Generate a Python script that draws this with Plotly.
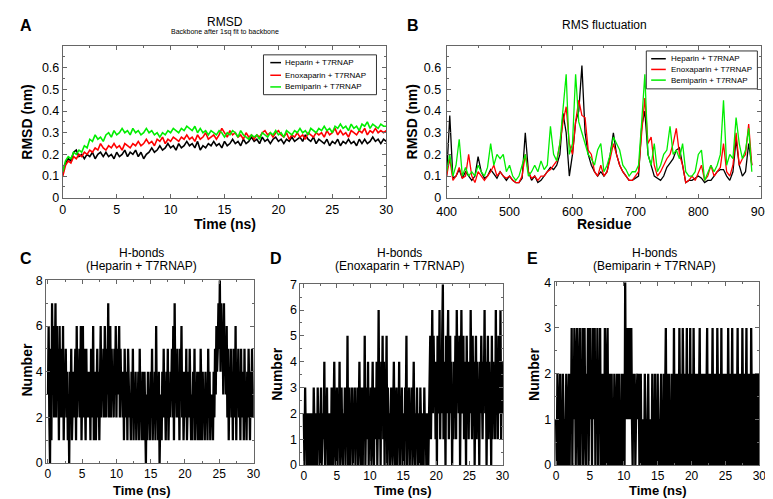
import plotly.graph_objects as go

W, H = 773, 499

# ---------------- DATA ----------------
# Panel A: RMSD (nm) vs time (ns), sampled every 0.25 ns
RMSD_DT = 0.25
RMSD_HEPARIN = [0.12,0.16,0.18,0.17,0.21,0.22,0.19,0.20,
                0.18,0.20,0.19,0.21,0.18,0.20,0.21,0.19,
                0.21,0.19,0.20,0.18,0.21,0.19,0.20,0.22,
                0.19,0.21,0.20,0.22,0.19,0.21,0.18,0.20,
                0.21,0.23,0.21,0.22,0.24,0.22,0.23,0.25,
                0.23,0.24,0.22,0.25,0.23,0.24,0.26,0.24,
                0.25,0.23,0.26,0.22,0.24,0.23,0.25,0.24,
                0.26,0.24,0.25,0.23,0.26,0.24,0.25,0.27,
                0.25,0.26,0.24,0.27,0.25,0.26,0.28,0.26,
                0.27,0.25,0.28,0.26,0.27,0.25,0.27,0.28,
                0.26,0.27,0.25,0.27,0.26,0.28,0.26,0.27,
                0.28,0.26,0.29,0.27,0.26,0.28,0.25,0.27,
                0.26,0.25,0.27,0.24,0.26,0.25,0.27,0.24,
                0.26,0.25,0.27,0.25,0.26,0.24,0.27,0.25,
                0.27,0.25,0.26,0.28,0.26,0.27,0.25,0.27,0.26]
RMSD_ENOXAPARIN = [0.10,0.15,0.17,0.16,0.19,0.18,0.20,0.19,
                   0.21,0.20,0.22,0.21,0.23,0.22,0.25,0.23,
                   0.22,0.24,0.23,0.25,0.23,0.24,0.22,0.25,
                   0.24,0.23,0.25,0.24,0.26,0.24,0.25,0.27,
                   0.25,0.26,0.24,0.27,0.26,0.28,0.25,0.27,
                   0.26,0.28,0.27,0.26,0.28,0.27,0.29,0.27,
                   0.28,0.26,0.29,0.27,0.28,0.30,0.27,0.28,
                   0.29,0.27,0.29,0.32,0.30,0.28,0.31,0.29,
                   0.30,0.28,0.29,0.27,0.30,0.28,0.29,0.27,
                   0.29,0.28,0.30,0.31,0.29,0.30,0.28,0.30,
                   0.31,0.29,0.28,0.30,0.27,0.29,0.28,0.30,
                   0.28,0.29,0.27,0.30,0.29,0.28,0.30,0.29,
                   0.30,0.28,0.31,0.29,0.30,0.32,0.29,0.31,
                   0.29,0.30,0.28,0.31,0.30,0.29,0.31,0.30,
                   0.32,0.29,0.31,0.30,0.32,0.30,0.31,0.30,0.31]
RMSD_BEMIPARIN = [0.12,0.17,0.19,0.18,0.21,0.20,0.22,0.21,
                  0.24,0.23,0.27,0.26,0.29,0.27,0.28,0.26,
                  0.29,0.30,0.28,0.31,0.29,0.30,0.32,0.30,
                  0.31,0.29,0.32,0.30,0.31,0.29,0.30,0.32,
                  0.30,0.31,0.29,0.30,0.28,0.30,0.29,0.31,
                  0.30,0.32,0.31,0.30,0.32,0.31,0.33,0.32,
                  0.31,0.33,0.30,0.32,0.30,0.31,0.29,0.31,
                  0.30,0.29,0.31,0.30,0.28,0.30,0.29,0.31,
                  0.30,0.28,0.31,0.29,0.28,0.27,0.29,0.28,
                  0.29,0.27,0.30,0.29,0.28,0.30,0.29,0.31,
                  0.29,0.30,0.28,0.31,0.30,0.29,0.31,0.30,
                  0.32,0.30,0.31,0.29,0.32,0.31,0.30,0.32,
                  0.31,0.33,0.31,0.32,0.30,0.33,0.32,0.34,
                  0.32,0.33,0.31,0.34,0.32,0.33,0.31,0.34,
                  0.33,0.35,0.32,0.34,0.33,0.32,0.34,0.33,0.33]

# Panel B: RMS fluctuation (nm) per residue, every 5 residues from 400
RESIDUE_START, RESIDUE_STEP = 400, 5
RMSF_HEPARIN = [0.10,0.38,0.09,0.10,0.13,0.09,0.12,0.10,0.08,0.10,
                0.19,0.12,0.09,0.10,0.13,0.11,0.09,0.12,0.10,0.08,
                0.10,0.08,0.07,0.07,0.09,0.30,0.12,0.08,0.10,0.07,
                0.08,0.10,0.12,0.14,0.13,0.15,0.20,0.39,0.30,0.10,
                0.20,0.35,0.40,0.61,0.30,0.20,0.15,0.12,0.10,0.12,
                0.10,0.12,0.20,0.30,0.20,0.15,0.12,0.10,0.08,0.08,
                0.09,0.10,0.33,0.40,0.20,0.15,0.10,0.09,0.08,0.10,
                0.14,0.16,0.18,0.22,0.23,0.15,0.07,0.08,0.08,0.09,
                0.10,0.09,0.07,0.08,0.08,0.10,0.12,0.13,0.13,0.10,
                0.08,0.12,0.27,0.15,0.10,0.12,0.25,0.15]
RMSF_ENOXAPARIN = [0.10,0.18,0.08,0.10,0.14,0.09,0.10,0.20,0.10,0.07,
                   0.12,0.10,0.08,0.10,0.12,0.15,0.10,0.12,0.10,0.09,
                   0.10,0.08,0.07,0.07,0.10,0.20,0.12,0.09,0.10,0.08,
                   0.10,0.10,0.12,0.13,0.15,0.17,0.25,0.35,0.42,0.25,
                   0.20,0.35,0.45,0.38,0.37,0.22,0.20,0.12,0.10,0.15,
                   0.10,0.12,0.18,0.25,0.20,0.15,0.12,0.10,0.08,0.08,
                   0.10,0.12,0.30,0.46,0.25,0.28,0.15,0.10,0.12,0.15,
                   0.18,0.20,0.25,0.32,0.20,0.15,0.07,0.08,0.10,0.08,
                   0.12,0.15,0.08,0.10,0.15,0.10,0.12,0.14,0.25,0.12,
                   0.10,0.15,0.30,0.15,0.18,0.20,0.34,0.15]
RMSF_BEMIPARIN = [0.12,0.20,0.10,0.15,0.27,0.10,0.14,0.10,0.12,0.10,
                  0.15,0.12,0.10,0.14,0.25,0.15,0.20,0.18,0.20,0.12,
                  0.15,0.10,0.08,0.10,0.15,0.20,0.10,0.12,0.15,0.12,
                  0.17,0.13,0.15,0.33,0.20,0.17,0.25,0.40,0.57,0.20,
                  0.25,0.57,0.35,0.30,0.25,0.20,0.18,0.15,0.22,0.25,
                  0.12,0.15,0.20,0.28,0.25,0.22,0.15,0.13,0.10,0.12,
                  0.12,0.15,0.35,0.57,0.20,0.15,0.25,0.12,0.15,0.20,
                  0.22,0.33,0.20,0.22,0.18,0.25,0.12,0.10,0.10,0.12,
                  0.20,0.22,0.08,0.12,0.15,0.12,0.15,0.20,0.45,0.15,
                  0.20,0.18,0.37,0.25,0.18,0.22,0.32,0.12]

# Panels C-E: number of H-bonds, sampled every 0.1 ns
HB_DT = 0.1
HB_HEPARIN = [3,6,2,0,5,1,7,3,6,2, 4,7,2,6,3,5,1,6,2,4, 5,2,6,1,4,3,5,2,4,1,
              3,0,4,2,5,1,3,4,2,3, 5,1,6,2,4,3,5,2,6,1, 4,6,2,5,3,1,5,2,4,3,
              2,4,1,5,3,2,6,1,3,4, 1,3,5,2,4,1,3,6,2,4, 3,5,2,6,4,2,5,3,7,2,
              4,6,2,5,3,4,2,5,3,6, 2,5,3,4,6,2,5,3,4,2, 4,1,5,3,2,4,1,5,3,2,
              3,1,4,2,5,1,3,2,4,1, 3,2,4,1,5,2,3,1,4,2, 1,4,2,0,3,1,4,2,3,1,
              4,2,5,1,3,2,4,1,6,2, 3,1,4,0,2,3,1,4,2,5, 2,3,1,4,2,5,1,3,2,4,
              3,5,2,6,1,7,3,4,2,5, 2,4,1,5,3,6,2,4,1,3, 4,2,5,1,3,4,2,5,3,1,
              3,1,4,2,5,1,3,2,4,1, 2,4,1,5,3,1,4,2,3,1, 4,2,3,1,5,2,4,1,3,2,
              3,1,4,2,5,3,6,4,5,7, 5,8,4,7,5,6,3,7,4,5, 3,6,2,5,1,4,3,5,2,4,
              1,5,3,2,6,1,4,3,5,2, 4,1,5,2,3,4,1,5,2,3, 1,4,2,5,3,1,4,2,5,3,2]
HB_ENOXAPARIN = [2,0,3,1,2,0,1,2,0,2, 1,0,2,1,0,3,2,0,1,2, 0,3,1,2,0,2,3,0,1,2,
                 1,4,0,2,1,3,0,2,1,0, 2,0,3,1,0,2,4,1,0,2, 3,0,2,1,4,0,2,3,1,0,
                 2,1,3,0,2,1,5,0,2,3, 0,2,1,3,0,2,1,3,0,2, 1,3,0,2,4,1,0,3,2,0,
                 3,1,5,0,2,3,1,4,0,2, 1,3,0,2,4,1,0,3,2,1, 4,0,2,6,1,3,0,4,2,5,
                 1,4,0,3,2,5,0,3,1,2, 0,2,3,1,0,2,4,1,0,2, 3,0,2,1,4,0,2,1,3,0,
                 2,1,0,3,2,5,0,2,1,3, 0,2,1,3,0,2,4,1,0,2, 1,3,0,2,1,0,3,2,0,1,
                 2,0,3,1,2,0,1,2,0,2, 3,5,1,4,6,2,5,3,4,1, 4,0,5,2,3,6,1,4,2,5,
                 7,1,4,3,0,5,2,4,6,1, 3,5,2,4,0,3,1,4,2,5, 1,6,3,4,2,5,0,4,6,3,
                 2,5,1,4,3,0,5,2,4,1, 4,2,6,3,1,5,2,4,0,3, 5,1,4,2,3,0,4,2,5,3,
                 1,4,3,6,2,4,0,3,5,1, 4,2,3,0,5,1,4,2,3,1, 6,2,4,1,5,3,2,6,1,4,2]
HB_BEMIPARIN = [1,0,2,1,0,1,2,0,1,0, 2,1,0,1,0,2,1,0,1,2, 0,2,1,3,0,2,1,3,2,0,
                2,3,1,0,2,3,0,2,1,3, 0,2,3,1,0,2,1,3,0,2, 3,1,2,0,3,2,1,3,0,2,
                1,3,0,2,1,3,0,2,1,0, 2,0,3,1,0,2,3,0,1,2, 0,1,2,0,1,0,2,1,0,1,
                2,0,1,2,0,1,0,2,1,0, 2,0,4,1,2,3,1,2,3,1, 2,3,1,0,2,1,2,0,1,2,
                2,1,2,0,1,2,0,1,0,1, 0,2,0,1,0,1,2,0,1,0, 1,0,2,0,1,0,2,0,1,0,
                2,0,1,0,1,2,0,1,0,2, 0,1,3,0,2,1,0,2,0,1, 0,2,1,0,3,0,1,2,0,1,
                2,0,3,1,0,2,0,3,1,0, 2,0,1,3,0,2,1,0,3,0, 1,2,0,3,1,0,2,0,1,2,
                0,1,3,0,2,1,0,2,0,1, 2,0,1,3,0,2,1,0,2,0, 1,3,0,2,1,0,2,0,3,1,
                0,2,1,0,3,0,2,1,0,2, 0,1,2,0,3,1,0,2,0,1, 3,0,2,1,0,2,0,1,3,0,
                2,0,1,2,0,3,1,0,2,0, 1,3,0,2,0,1,2,0,3,1, 0,2,1,0,2,0,1,2,0,2,1]

SERIES_NAMES = ["Heparin + T7RNAP", "Enoxaparin + T7RNAP", "Bemiparin + T7RNAP"]
SERIES_COLORS = ["#000000", "#ff0000", "#00ee00"]

# ---------------- FIGURE ----------------
FONT = "Liberation Sans, Arial, sans-serif"


def px(x):
    return x / W


def py(y):
    return 1 - y / H


fig = go.Figure()

t_rmsd = [i * RMSD_DT for i in range(len(RMSD_HEPARIN))]
for name, col, ys in zip(SERIES_NAMES, SERIES_COLORS,
                         [RMSD_HEPARIN, RMSD_ENOXAPARIN, RMSD_BEMIPARIN]):
    fig.add_trace(go.Scatter(x=t_rmsd, y=ys, mode="lines", name=name,
                             showlegend=False,
                             line=dict(color=col, width=1.6),
                             xaxis="x", yaxis="y"))

residues = [RESIDUE_START + i * RESIDUE_STEP for i in range(len(RMSF_HEPARIN))]
for name, col, ys in zip(SERIES_NAMES, SERIES_COLORS,
                         [RMSF_HEPARIN, RMSF_ENOXAPARIN, RMSF_BEMIPARIN]):
    fig.add_trace(go.Scatter(x=residues, y=ys, mode="lines", name=name,
                             showlegend=False,
                             line=dict(color=col, width=1.3),
                             xaxis="x2", yaxis="y2"))

for k, ys in zip([3, 4, 5], [HB_HEPARIN, HB_ENOXAPARIN, HB_BEMIPARIN]):
    t = [i * HB_DT for i in range(len(ys))]
    fig.add_trace(go.Scatter(x=t, y=ys, mode="lines", showlegend=False,
                             line=dict(color="#000000", width=2.3),
                             xaxis=f"x{k}", yaxis=f"y{k}"))


def axis_style(domain, rng, dtick, minor_dtick, anchor, size=12.5):
    return dict(domain=domain, range=rng, dtick=dtick, tick0=0,
                showgrid=False, zeroline=False,
                showline=True, linecolor="#666", linewidth=1, mirror="ticks",
                ticks="inside", ticklen=4, tickcolor="#666", tickwidth=1,
                minor=dict(dtick=minor_dtick, ticks="inside", ticklen=2,
                           tickcolor="#666", showgrid=False),
                tickfont=dict(family=FONT, size=size, color="#000"),
                anchor=anchor, fixedrange=True)


RMSD_TICKS = [0, 0.1, 0.2, 0.3, 0.4, 0.5, 0.6]
ya = axis_style([py(188), py(32)], [0, 0.7], 0.1, 0.05, "x")
ya.update(tickvals=RMSD_TICKS, ticktext=[f"{v:g}" for v in RMSD_TICKS])
yb = axis_style([py(188), py(32)], [0, 0.7], 0.1, 0.05, "x2")
yb.update(tickvals=RMSD_TICKS, ticktext=[f"{v:g}" for v in RMSD_TICKS],
          ticklabelstandoff=2)
xb = axis_style([px(440), px(763)], [400, 900], 100, 50, "y2")
xb.update(ticklabelstandoff=2)

fig.update_layout(
    width=W, height=H,
    margin=dict(l=0, r=0, t=0, b=0),
    paper_bgcolor="white", plot_bgcolor="white",
    font=dict(family=FONT, color="#000"),
    showlegend=False,
    xaxis=axis_style([px(46), px(378)], [0, 30], 5, 2.5, "y"),
    yaxis=ya,
    xaxis2=xb,
    yaxis2=yb,
    xaxis3=axis_style([px(29), px(242)], [-0.25, 30.05], 5, 2.5, "y3", 12),
    yaxis3=axis_style([py(461), py(273)], [0, 8], 2, 1, "x3"),
    xaxis4=axis_style([px(290), px(498)], [-0.5, 30.1], 5, 2.5, "y4", 12),
    yaxis4=axis_style([py(463), py(277)], [0, 7], 1, 0.5, "x4"),
    xaxis5=axis_style([px(551), px(761)], [-0.2, 30.0], 5, 2.5, "y5", 12),
    yaxis5=axis_style([py(463), py(275)], [0, 4], 1, 0.5, "x5"),
)


def ann(text, x, y, size, bold=False, angle=0, color="#000", xanchor="center"):
    fig.add_annotation(text=text, x=px(x), y=py(y), xref="paper", yref="paper",
                       showarrow=False, textangle=angle,
                       xanchor=xanchor, yanchor="middle",
                       font=dict(family=FONT, size=size, color=color,
                                 weight="bold" if bold else "normal"))


# Legends (drawn as a boxed key)
def legend_box(x0, y0, x1, y1, rows, line_x0, line_x1, text_x):
    fig.add_shape(type="rect", xref="paper", yref="paper",
                  x0=px(x0), x1=px(x1), y0=py(y1), y1=py(y0),
                  line=dict(color="#333", width=1), fillcolor="white")
    for yy, name, col in zip(rows, SERIES_NAMES, SERIES_COLORS):
        fig.add_shape(type="line", xref="paper", yref="paper",
                      x0=px(line_x0), x1=px(line_x1), y0=py(yy), y1=py(yy),
                      line=dict(color=col, width=1.5))
        ann(name, text_x, yy, 8, xanchor="left")


legend_box(252, 41, 368, 82, [49, 62, 74], 259, 270, 272)
legend_box(645, 37, 759, 76, [45, 56, 67], 650, 665, 668)

# Panel letters
ann("A", 8, 11, 16, bold=True)
ann("B", 406, 11, 16, bold=True)
ann("C", 8, 251, 16, bold=True)
ann("D", 265, 251, 16, bold=True)
ann("E", 528, 251, 16, bold=True)

# Titles
ann("RMSD", 212, 7, 12)
ann("Backbone after 1sq fit to backbone", 212, 17, 7)
ann("RMS fluctuation", 602, 10, 12)
ann("H-bonds", 127, 245, 12)
ann("(Heparin + T7RNAP)", 127, 258, 12)
ann("H-bonds", 392, 245, 12)
ann("(Enoxaparin + T7RNAP)", 392, 258, 12)
ann("H-bonds", 653, 245, 12)
ann("(Bemiparin + T7RNAP)", 653, 258, 12)

# Axis titles
ann("Time (ns)", 212, 215, 14, bold=True)
ann("RMSD (nm)", 9, 110, 14, bold=True, angle=-90)
ann("Residue", 602, 215, 14, bold=True)
ann("RMSD (nm)", 404, 110, 14, bold=True, angle=-90)
ann("Time (ns)", 127, 489, 13, bold=True)
ann("Number", 9, 365, 14, bold=True, angle=-90)
ann("Time (ns)", 395, 489, 13, bold=True)
ann("Number", 266, 370, 14, bold=True, angle=-90)
ann("Time (ns)", 657, 489, 13, bold=True)
ann("Number", 529, 370, 14, bold=True, angle=-90)

fig.write_html("out.html")
